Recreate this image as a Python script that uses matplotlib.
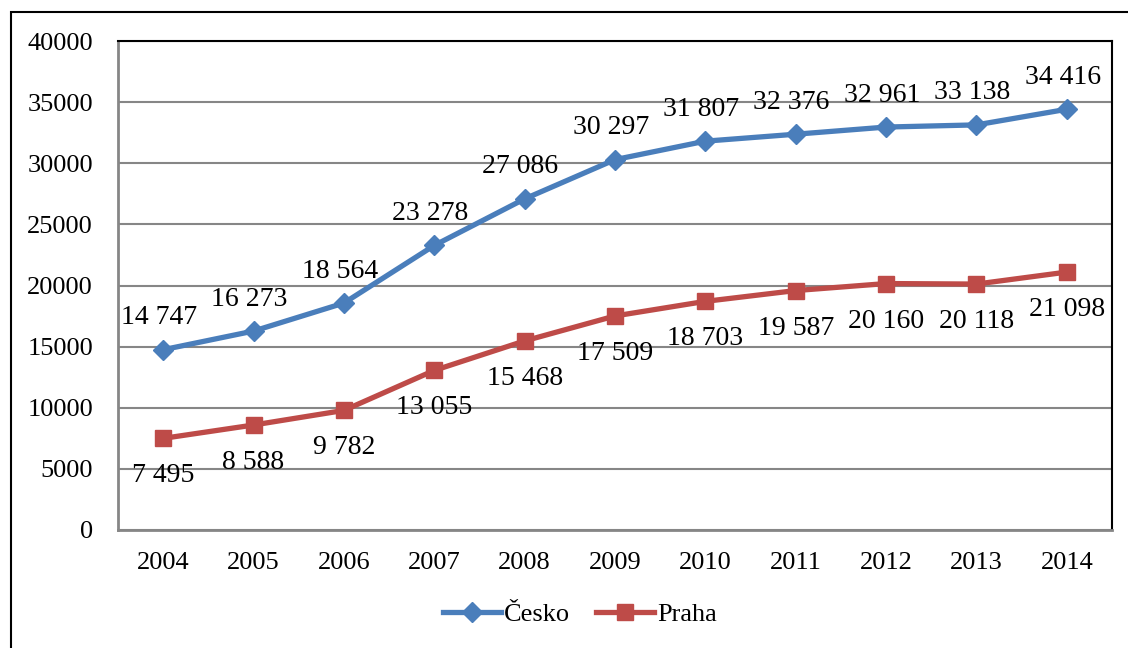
import matplotlib
matplotlib.use("Agg")
import matplotlib.pyplot as plt
from matplotlib.patches import Rectangle

years = ["2004", "2005", "2006", "2007", "2008", "2009", "2010", "2011", "2012", "2013", "2014"]
cesko = [14747, 16273, 18564, 23278, 27086, 30297, 31807, 32376, 32961, 33138, 34416]
praha = [7495, 8588, 9782, 13055, 15468, 17509, 18703, 19587, 20160, 20118, 21098]
yticks = [0, 5000, 10000, 15000, 20000, 25000, 30000, 35000, 40000]

plt.rcParams['font.family'] = ['Liberation Serif', 'DejaVu Serif']
FS = 19
LFS = 20
blue = '#4A7EBB'
red = '#BE4B48'

W, H = 1128, 648
fig = plt.figure(figsize=(W / 100, H / 100), dpi=100)
ax = fig.add_axes([118 / W, 1 - 530 / H, (1112 - 118) / W, (530 - 41) / H])

x = list(range(len(years)))
ax.plot(x, cesko, color=blue, lw=3.8, marker='D', ms=10, mec=blue, mfc=blue,
        label='Česko', zorder=3)
ax.plot(x, praha, color=red, lw=3.8, marker='s', ms=12, mec=red, mfc=red,
        label='Praha', zorder=3)

def fmt(v):
    return f"{v:,}".replace(",", " ")

for xi, v in zip(x, cesko):
    ax.annotate(fmt(v), (xi, v), xytext=(-3, 23), textcoords='offset points',
                ha='center', va='center', fontsize=LFS)
for xi, v in zip(x, praha):
    ax.annotate(fmt(v), (xi, v), xytext=(0, -27), textcoords='offset points',
                ha='center', va='center', fontsize=LFS)

ax.set_xlim(-0.5, len(years) - 0.5)
ax.set_ylim(0, 40000)
ax.set_yticks(yticks)
ax.set_yticklabels([str(t) for t in yticks], fontsize=FS)
ax.set_xticks(x)
ax.set_xticklabels(years, fontsize=FS)
ax.tick_params(axis='y', length=0, pad=18)
ax.tick_params(axis='x', length=0, pad=16)
ax.grid(axis='y', color='#868686', lw=1.5)
ax.set_axisbelow(True)
for s in ['left', 'bottom']:
    ax.spines[s].set_color('#868686')
    ax.spines[s].set_linewidth(2)
for s in ['top', 'right']:
    ax.spines[s].set_color('black')
    ax.spines[s].set_linewidth(1.5)

leg = fig.legend(loc='center', bbox_to_anchor=(580 / W, 1 - 614 / H), ncol=2,
                 frameon=False, fontsize=FS, handlelength=2.2, handletextpad=0.1,
                 columnspacing=1.0)

fig.patches.append(Rectangle((11 / W, -0.1), 1.2, 1 - 12 / H + 0.1, transform=fig.transFigure,
                             fill=False, edgecolor='black', lw=1.5))

fig.savefig('out.png', dpi=100)
